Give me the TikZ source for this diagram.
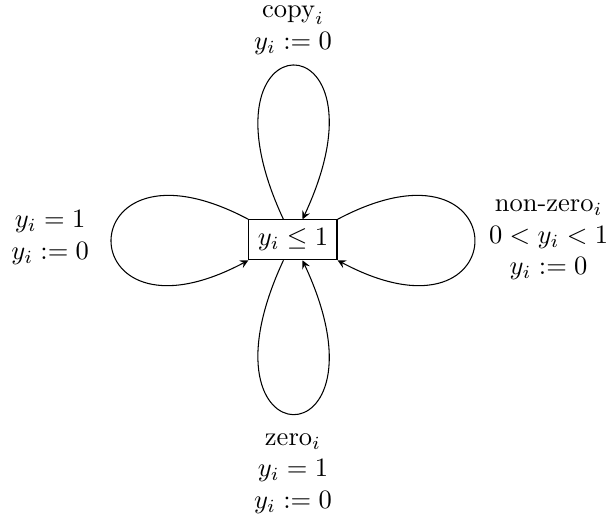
\documentclass[tikz,border=0pt]{standalone}
\usepackage{amsmath, amssymb}
\usepackage{tikz}

\begin{document}
\begin{tikzpicture}[>=stealth,
    loc/.style={draw, rectangle},
    lbl/.style={align=center}]
  \useasboundingbox (-3.885,-3.83) rectangle (4.27,3.18);
  %--- Location
  \node[loc] (s) at (0,0) {$y_i \leq 1$};
  %--- Self loops
  \draw[->] (s) to[out=115, in=65, min distance=3.0cm] (s);
  \draw[->] (s) to[out=245, in=295, min distance=3.0cm] (s);
  \draw[->] (s.north west) to[out=152, in=208, min distance=2.74cm] (s.south west);
  \draw[->] (s.north east) to[out=28, in=-28, min distance=2.74cm] (s.south east);
  %--- Labels
  \node[lbl] (copy) at (0,2.78) {$\text{copy}_i$\\ $y_i := 0$};
  \node[lbl] (reset) at (-3.22,0.03) {$y_i = 1$\\ $y_i := 0$};
  \node[lbl] (nonzero) at (3.39,0) {$\text{non-zero}_i$\\ $0 < y_i < 1$\\ $y_i := 0$};
  \node[lbl] (zero) at (0,-3.1) {$\text{zero}_i$\\ $y_i = 1$\\ $y_i := 0$};
\end{tikzpicture}
\end{document}
